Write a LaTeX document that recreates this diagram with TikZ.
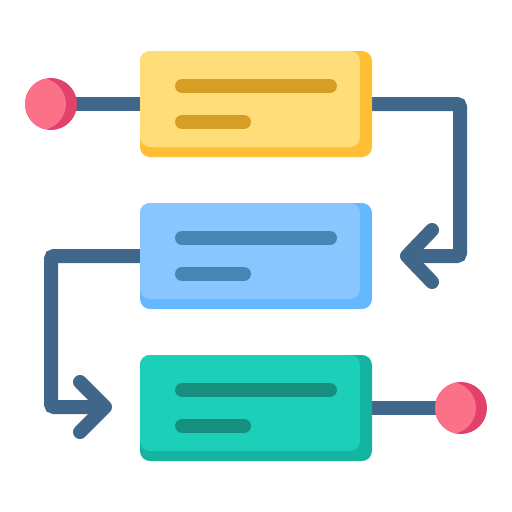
\documentclass[tikz,border=0pt]{standalone}
\usepackage{tikz}
\usetikzlibrary{positioning}
\usetikzlibrary{backgrounds}
\definecolor{linkcol}{HTML}{40678A}
\definecolor{yelDark}{HTML}{FFBE33}
\definecolor{yelLight}{HTML}{FFDE7A}
\definecolor{yelBar}{HTML}{D69E24}
\definecolor{bluDark}{HTML}{64B8FF}
\definecolor{bluLight}{HTML}{89C6FF}
\definecolor{bluBar}{HTML}{4487B5}
\definecolor{grnDark}{HTML}{14B4A0}
\definecolor{grnLight}{HTML}{1BCFB9}
\definecolor{grnBar}{HTML}{178F7F}
\definecolor{dotLight}{HTML}{FB7187}
\definecolor{dotDark}{HTML}{E2416A}

\begin{document}
\begin{tikzpicture}[x=1pt, y=-1pt,
    box/.style={rectangle, rounded corners=10pt, minimum width=232pt, minimum height=106pt, inner sep=0pt, outer sep=0pt},
    dot/.style={circle, minimum size=52pt, inner sep=0pt, outer sep=0pt, fill=dotDark},
    link/.style={draw=linkcol, line width=14pt, rounded corners=3pt},
    tip/.style={draw=linkcol, line width=14pt, line cap=round, line join=round},
    bar/.style={line width=14pt, line cap=round}]
    \useasboundingbox (0,0) rectangle (512,512);

    % Boxes
    \node[box, fill=yelDark] (top) at (256,104) {};
    \node[box, fill=bluDark] (mid) at (256,256) {};
    \node[box, fill=grnDark] (low) at (256,408) {};
    \fill[yelLight, rounded corners=10pt] (top.north west) rectangle ([shift={(-12,-10)}]top.south east);
    \fill[bluLight, rounded corners=10pt] (mid.north west) rectangle ([shift={(-12,-10)}]mid.south east);
    \fill[grnLight, rounded corners=10pt] (low.north west) rectangle ([shift={(-12,-10)}]low.south east);

    % Text lines
    \draw[bar, yelBar] ([shift={(42,-18)}]top.west) -- ++(148,0);
    \draw[bar, yelBar] ([shift={(42,18)}]top.west) -- ++(62,0);
    \draw[bar, bluBar] ([shift={(42,-18)}]mid.west) -- ++(148,0);
    \draw[bar, bluBar] ([shift={(42,18)}]mid.west) -- ++(62,0);
    \draw[bar, grnBar] ([shift={(42,-18)}]low.west) -- ++(148,0);
    \draw[bar, grnBar] ([shift={(42,18)}]low.west) -- ++(62,0);

    % Start and end dots
    \node[dot] (start) at (51,104) {};
    \node[dot] (stop) at (461,408) {};
    \begin{scope}
        \clip (start) circle (26);
        \fill[dotLight] ([xshift=-11pt]start.center) circle (26);
    \end{scope}
    \begin{scope}
        \clip (stop) circle (26);
        \fill[dotLight] ([xshift=-11pt]stop.center) circle (26);
    \end{scope}

    % Turning points and arrow tips
    \coordinate (turnA) at (460,104);
    \coordinate (turnB) at (460,256);
    \coordinate (tipA) at (407,256);
    \coordinate (turnC) at (51,256);
    \coordinate (turnD) at (51,407);
    \coordinate (tipB) at (105,407);

    % Connectors
    \begin{pgfonlayer}{background}
        \draw[link] (start.center) -- (top.center);
        \draw[link] (top.center) -- (turnA) -- (turnB) -- (tipA);
        \draw[link] (mid.center) -- (turnC) -- (turnD) -- (tipB);
        \draw[link] (low.center) -- (stop.center);
    \end{pgfonlayer}
    \draw[tip] (tipA) ++(25,-26) -- (tipA) -- ++(25,26);
    \draw[tip] (tipB) ++(-25,-25) -- (tipB) -- ++(-25,25);
\end{tikzpicture}
\end{document}
